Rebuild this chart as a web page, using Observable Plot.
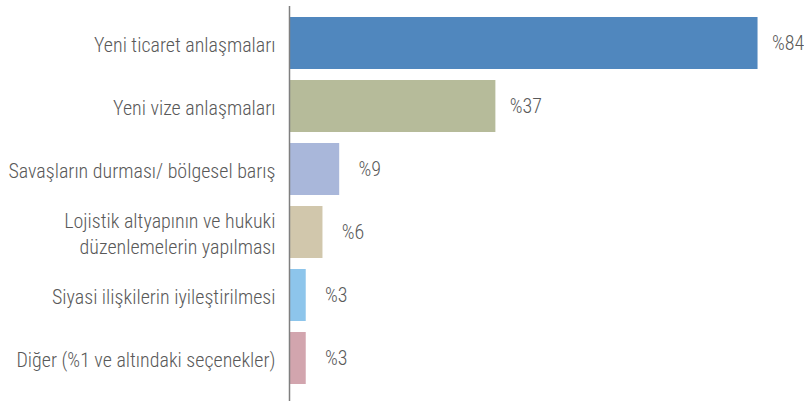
<!DOCTYPE html>
<html><head><meta charset="utf-8">
<script src="https://cdn.jsdelivr.net/npm/d3@7"></script>
<script src="https://cdn.jsdelivr.net/npm/@observablehq/plot@0.6"></script>
<style>
body{margin:0;background:#fff;}
#chart svg{font-family:"Roboto Condensed","Liberation Sans Narrow","DejaVu Sans Condensed",sans-serif;font-stretch:condensed;font-weight:300;}
</style>
</head><body><div id="chart"></div>
<script>
const categories = [
  "Yeni ticaret anlaşmaları",
  "Yeni vize anlaşmaları",
  "Savaşların durması/ bölgesel barış",
  "Lojistik altyapının ve hukuki\ndüzenlemelerin yapılması",
  "Siyasi ilişkilerin iyileştirilmesi",
  "Diğer (%1 ve altındaki seçenekler)"
];
const values = [84, 37, 9, 6, 3, 3];
const colors = ["#5087be", "#b6bb9a", "#a9b7da", "#d1c7ac", "#8dc5eb", "#d2a5ae"];

const data = categories.map((c, i) => ({cat: c, val: values[i], color: colors[i]}));

const chart = Plot.plot({
  width: 804,
  height: 401,
  marginLeft: 289,
  marginRight: 13,
  marginTop: 6,
  marginBottom: 0,
  x: {domain: [0, 90], axis: null},
  y: {domain: categories, paddingInner: 0.18, paddingOuter: 0, insetTop: 9, insetBottom: 16, label: null},
  color: {domain: categories, range: colors},
  marks: [
    Plot.barX(data, {x: "val", y: "cat", fill: "cat"}),
    Plot.ruleX([0], {stroke: "#7f7f7f", strokeWidth: 1.5}),
    Plot.axisY({tickSize: 0, tickPadding: 14, fontSize: 20, fill: "#595959", label: null, lineHeight: 1.3}),
    Plot.text(data, {x: "val", y: "cat", text: d => "%" + d.val, dx: 30, textAnchor: "middle", fontSize: 20, fill: "#595959"})
  ]
});
document.getElementById("chart").appendChild(chart);
</script>
</body></html>
